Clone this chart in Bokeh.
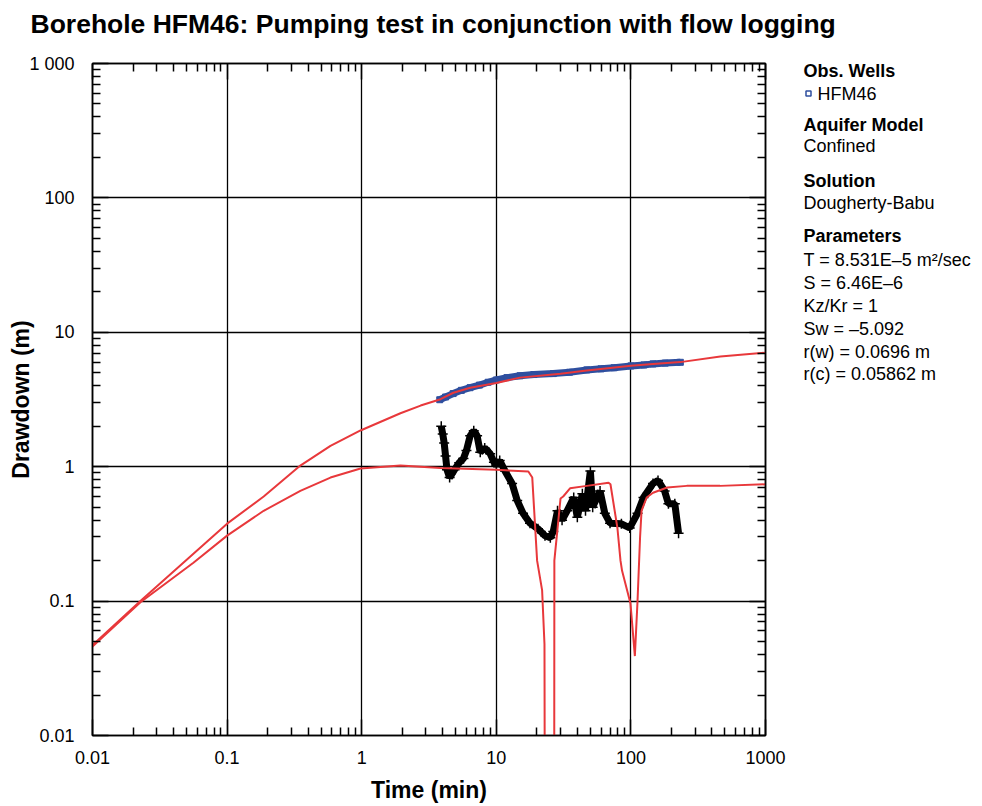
import numpy as np
from bokeh.plotting import figure
from bokeh.layouts import row, column
from bokeh.models import LogAxis, FixedTicker, CustomJSTickFormatter, Range1d
from bokeh.embed import file_html
from bokeh.resources import INLINE

# ---------------- data ----------------
# observed drawdown, HFM46 (min, m)
obs_t = [3.8, 4.2, 4.78, 5.5, 6.38, 7.5, 8.7, 10, 12, 15, 19, 26.5, 35, 47, 60, 75, 100, 125, 146, 180, 233]
obs_s = [3.15, 3.3, 3.5, 3.7, 3.87, 4.05, 4.25, 4.42, 4.6, 4.75, 4.85, 4.93, 5.05, 5.25, 5.35, 5.45, 5.62, 5.72, 5.82, 5.9, 5.98]

# derivative data (crosses)
der_t = [3.9, 4.0, 4.1, 4.2, 4.3, 4.5, 4.9, 5.3, 5.7, 6.0, 6.4, 6.8, 7.2, 7.6, 8.2, 9.0, 9.6, 10.0, 10.6,
         11.6, 13.1, 14.3, 15.8, 17.8, 20.4, 23, 25.2, 26.5, 28.5, 30.8, 33.6, 37.6, 40, 43.6, 46, 50, 52,
         59, 64, 70, 85, 98, 112, 124, 146, 159, 178, 190, 212, 226]
der_s = [2.0, 1.75, 1.5, 1.2, 0.95, 0.83, 0.95, 1.07, 1.15, 1.32, 1.7, 1.85, 1.7, 1.28, 1.38, 1.25, 1.08, 1.02, 1.11,
         0.93, 0.75, 0.56, 0.45, 0.38, 0.345, 0.306, 0.296, 0.33, 0.47, 0.40, 0.47, 0.59, 0.42, 0.63, 0.47, 0.93, 0.50,
         0.66, 0.45, 0.38, 0.376, 0.35, 0.45, 0.59, 0.75, 0.79, 0.66, 0.53, 0.53, 0.32]

# model drawdown curve (Dougherty-Babu)
fit_t = [0.01, 0.0227, 0.0562, 0.1, 0.187, 0.35, 0.586, 0.98, 1.94, 2.74, 3.85, 4.8, 6.4, 10, 15, 30, 47, 100, 146, 233, 462, 1000]
fit_s = [0.047, 0.100, 0.225, 0.377, 0.60, 1.02, 1.43, 1.86, 2.5, 2.85, 3.18, 3.55, 3.87, 4.2, 4.6, 4.92, 5.2, 5.64, 5.82, 6.0, 6.6, 7.05]

# model derivative curve
fitd_t = [0.01, 0.0227, 0.0562, 0.1, 0.187, 0.35, 0.586, 0.98, 1.94, 3.85, 10, 17.3, 18.5, 20.1, 21.9, 22.8, 23.0,
          26.9, 27.0, 30.0, 31.4, 35.3, 47, 68.2, 70.5, 79.4, 83.7, 86, 99.3, 107, 112, 117, 120, 131, 146, 186, 260, 460, 1000]
fitd_s = [0.046, 0.098, 0.193, 0.307, 0.47, 0.66, 0.83, 0.97, 1.02, 0.98, 0.95, 0.92, 0.83, 0.2, 0.12, 0.048, 0.0005,
          0.0005, 0.2, 0.58, 0.6, 0.69, 0.72, 0.76, 0.74, 0.35, 0.2, 0.168, 0.096, 0.039, 0.1, 0.3, 0.47, 0.59, 0.64, 0.70, 0.72, 0.72, 0.74]

title_text = "Borehole HFM46: Pumping test in conjunction with flow logging"
x_title = "Time (min)"
y_title = "Drawdown (m)"
legend_bold = ["Obs. Wells", "Aquifer Model", "Solution", "Parameters"]
legend_norm = ["HFM46", "Confined", "Dougherty-Babu",
               "T = 8.531E\u20135 m\u00b2/sec", "S = 6.46E\u20136", "Kz/Kr = 1",
               "Sw = \u20135.092", "r(w) = 0.0696 m", "r(c) = 0.05862 m"]

# ---------------- layout (page pixels) ----------------
W, H = 982, 806
TH = 50                       # height of the title strip
PW = 790                      # main figure width
FL, FR, FT, FB = 92, 765, 63, 735
X0, X1, Y0, Y1 = 0.01, 1000.0, 0.01, 1000.0
FONT = "Liberation Sans"
RED = "#e8383b"
BLUE = "#2f4f9f"
legend_bold_y = [70, 124, 180, 235]
legend_norm_y = [93, 145, 202, 259, 282, 305, 328, 351, 373]
legend_norm_x = [817, 803, 803, 803, 803, 803, 803, 803, 803]

# ---------------- title strip ----------------
tf = figure(width=W, height=TH, output_backend="svg", toolbar_location=None,
            x_axis_location=None, y_axis_location=None,
            min_border_left=FL, min_border_right=W - FR, min_border_top=0, min_border_bottom=0)
tf.outline_line_color = None
tf.grid.visible = False
tf.title.text = title_text
tf.title.text_font = FONT
tf.title.text_font_size = "26.5px"
tf.title.text_font_style = "bold"
tf.title.text_color = "black"
tf.title.align = "left"
tf.title.vertical_align = "top"
tf.title.offset = -(FL - 30)
tf.title.standoff = 16

# ---------------- main plot ----------------
p = figure(width=PW, height=H - TH, x_axis_type="log", y_axis_type="log",
           x_range=Range1d(X0, X1), y_range=Range1d(Y0, Y1),
           output_backend="svg", toolbar_location=None,
           min_border_left=FL, min_border_right=PW - FR,
           min_border_top=FT - TH, min_border_bottom=H - FB)
p.background_fill_color = "white"
p.border_fill_color = "white"
p.outline_line_color = "black"
p.outline_line_width = 1.5

major = [10.0 ** k for k in range(-2, 4)]
minor = [m * 10.0 ** k for k in range(-2, 3) for m in range(2, 10)]

p.add_layout(LogAxis(), "above")
p.add_layout(LogAxis(), "right")

xfmt = CustomJSTickFormatter(code="""
const e = Math.round(Math.log10(tick));
const L = {"-2":"0.01","-1":"0.1","0":"1","1":"10","2":"100","3":"1000"};
return L[String(e)];""")
yfmt = CustomJSTickFormatter(code="""
const e = Math.round(Math.log10(tick));
const L = {"-2":"0.01","-1":"0.1","0":"1","1":"10","2":"100","3":"1 000"};
return L[String(e)];""")
blank = CustomJSTickFormatter(code="return '';")

for ax in p.axis:
    ax.ticker = FixedTicker(ticks=major, minor_ticks=minor)
    ax.major_tick_in = 16
    ax.major_tick_out = 0
    ax.minor_tick_in = 8
    ax.minor_tick_out = 0
    ax.axis_line_color = "black"
    ax.axis_line_width = 1.5
    ax.major_tick_line_color = "black"
    ax.major_tick_line_width = 1.5
    ax.minor_tick_line_color = "black"
    ax.minor_tick_line_width = 1.5
    ax.major_label_text_font = FONT
    ax.major_label_text_font_size = "18px"
    ax.major_label_text_color = "black"
    ax.axis_label_text_font = FONT
    ax.axis_label_text_font_style = "bold"
    ax.axis_label_text_font_size = "23px"
    ax.axis_label_text_color = "black"

p.below[0].formatter = xfmt
p.below[0].axis_label = x_title
p.below[0].major_label_standoff = 15
p.below[0].axis_label_standoff = 10
p.left[0].formatter = yfmt
p.left[0].axis_label = y_title
p.left[0].major_label_standoff = 18
p.left[0].axis_label_standoff = -8
for ax in (p.above[-1], p.right[-1]):
    ax.formatter = blank
    ax.major_label_standoff = 0
    ax.major_label_text_font_size = "1px"

for g in (p.xgrid[0], p.ygrid[0]):
    g.ticker = FixedTicker(ticks=major)
    g.grid_line_color = "black"
    g.grid_line_alpha = 1.0
    g.grid_line_width = 1.3

p.line(obs_t, obs_s, line_color=BLUE, line_width=7)
p.scatter(obs_t, obs_s, marker="square", size=6, line_color=BLUE, fill_color=BLUE)
p.line(der_t, der_s, line_color="black", line_width=7)
p.scatter(der_t, der_s, marker="cross", size=10, line_color="black", line_width=1.5)
p.line(fit_t, fit_s, line_color=RED, line_width=2)
p.line(fitd_t, fitd_s, line_color=RED, line_width=2)

# ---------------- side legend ----------------
q = figure(width=W - PW, height=H - TH, x_range=Range1d(PW, W), y_range=Range1d(FB, FT),
           output_backend="svg", toolbar_location=None,
           x_axis_location=None, y_axis_location=None,
           min_border_left=0, min_border_right=0,
           min_border_top=FT - TH, min_border_bottom=H - FB)
q.outline_line_color = None
q.grid.visible = False
q.background_fill_color = "white"
q.border_fill_color = "white"
q.text(x=[803] * len(legend_bold), y=legend_bold_y, text=legend_bold,
       text_font={"value": FONT}, text_font_size={"value": "18px"}, text_font_style="bold",
       text_color="black", text_baseline="middle", text_align="left")
q.text(x=legend_norm_x, y=legend_norm_y, text=legend_norm,
       text_font={"value": FONT}, text_font_size={"value": "18px"}, text_font_style="normal",
       text_color="black", text_baseline="middle", text_align="left")
q.scatter(x=[808], y=[93], marker="square", size=5, line_color=BLUE, fill_color=None, line_width=1.5)

open("out.html", "w").write(file_html(column(tf, row(p, q)), INLINE))
